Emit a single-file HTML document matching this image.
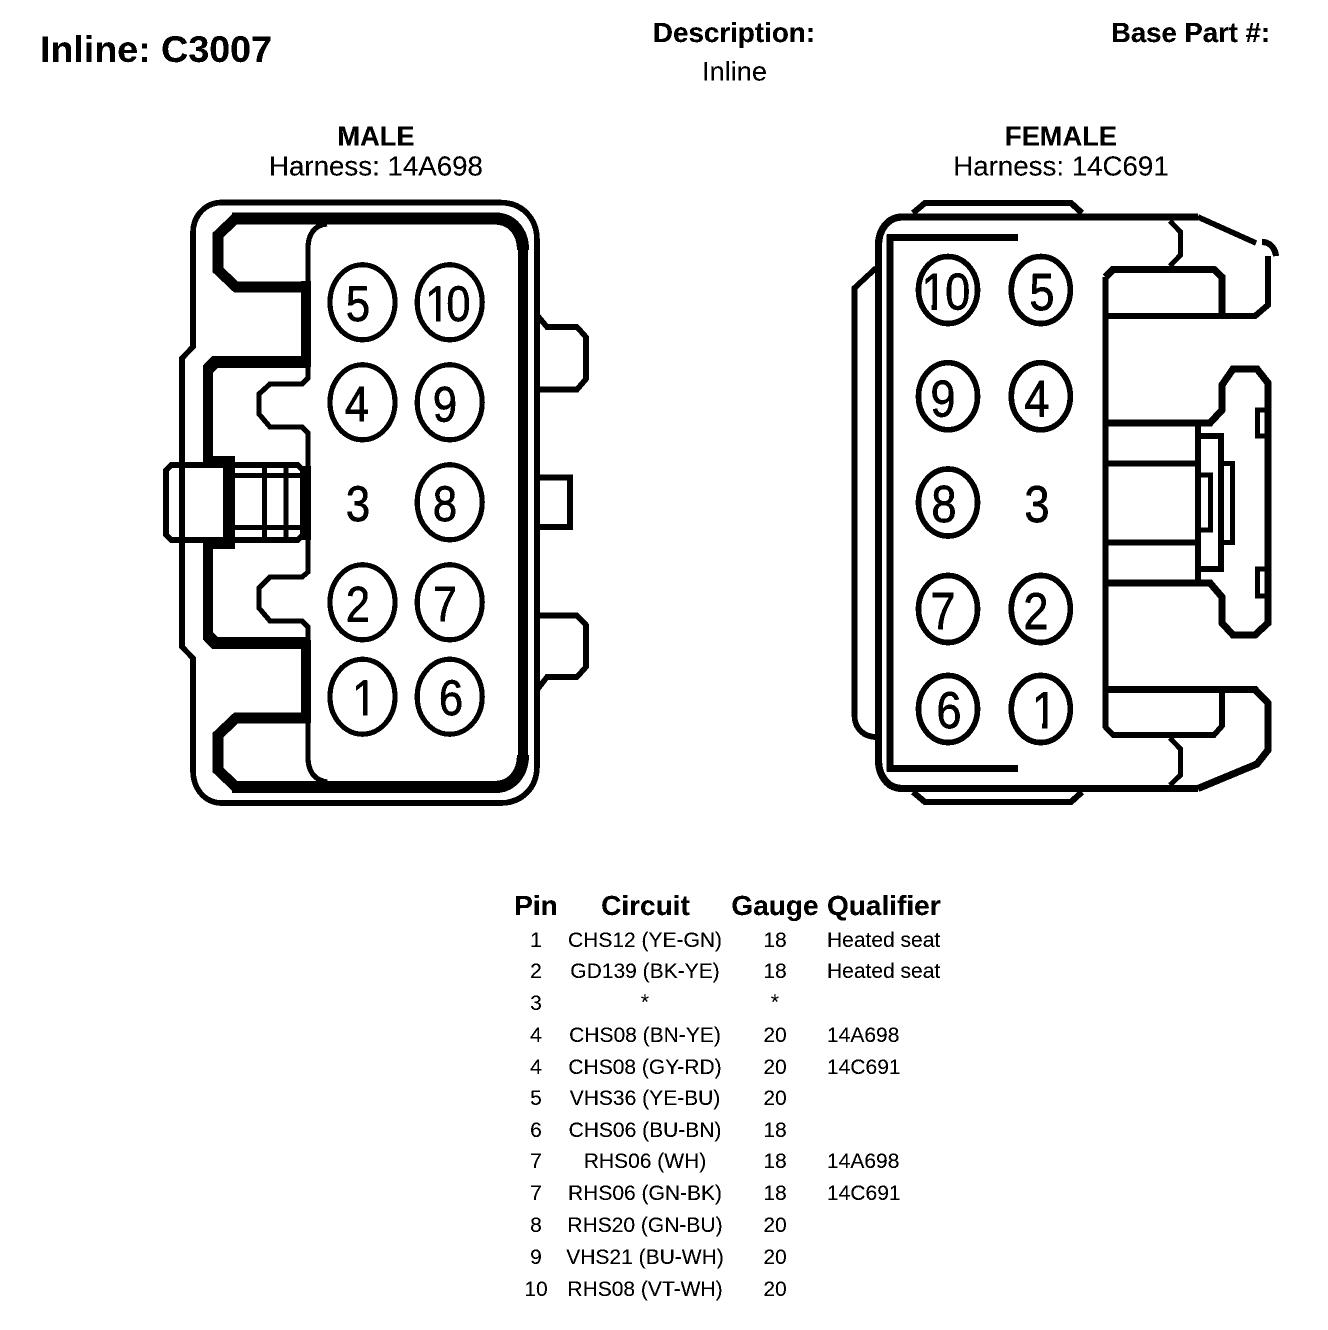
<!DOCTYPE html>
<html><head><meta charset="utf-8"><style>
html,body{margin:0;padding:0;background:#fff;width:1328px;height:1330px;overflow:hidden}
svg{display:block}
text{font-family:"Liberation Sans",sans-serif;fill:#000}
.b{font-weight:bold}
.m{text-anchor:middle}
.d{font-size:50px;text-anchor:middle;stroke:#000;stroke-width:.6}
.f{font-size:52px;text-anchor:middle;stroke:#000;stroke-width:.6}
.r{font-size:21px}
.h{font-size:28px;font-weight:bold}
path,ellipse{fill:none;stroke:#000;stroke-linejoin:miter}
</style></head><body>
<svg xmlns="http://www.w3.org/2000/svg" width="1328" height="1330" viewBox="0 0 1328 1330">
<defs><filter id="t" x="0" y="0" width="100%" height="100%" color-interpolation-filters="sRGB"><feComponentTransfer><feFuncR type="discrete" tableValues="0 0 1"/><feFuncG type="discrete" tableValues="0 0 1"/><feFuncB type="discrete" tableValues="0 0 1"/></feComponentTransfer></filter></defs>
<g filter="url(#t)">
<rect width="1328" height="1330" fill="#fff"/>

<text x="40" y="62" class="b" font-size="37" textLength="232" lengthAdjust="spacingAndGlyphs">Inline: C3007</text>
<text x="734" y="42" class="b m" font-size="27.8">Description:</text>
<text x="734.5" y="80.5" class="m" font-size="27.2">Inline</text>
<text x="1111" y="42" class="b" font-size="27.5" textLength="159" lengthAdjust="spacingAndGlyphs">Base Part #:</text>
<text x="376" y="145.5" class="b m" font-size="27.3">MALE</text>
<text x="376" y="175.5" class="m" font-size="27.7">Harness: 14A698</text>
<text x="1061" y="145.5" class="b m" font-size="27.3">FEMALE</text>
<text x="1061" y="175.5" class="m" font-size="27.7">Harness: 14C691</text>

<!-- MALE -->
<g>
<path stroke-width="5.5" d="M222 202.5H500C522 202.5 537 218 537 240V766C537 788 522 803 500 803H222C204 803 193 788 193 770V658L182 647V358L193 347V233C193 216 205 202.5 222 202.5Z"/>
<path stroke-width="12" d="M232 218.5H495C512 218.5 523 232 523 250"/>
<path stroke-width="12" d="M232 787H495C512 787 523 773 523 755"/>
<path stroke-width="10" d="M523 247V758"/>
<path stroke="#fff" stroke-width="1.5" d="M502 216C515 217 524 230 525 244"/>
<path stroke="#fff" stroke-width="1.5" d="M498 786C512 785 522 773 523 760"/>
<path stroke-width="10.5" d="M236 218L218 235V270L236 287H306"/>
<path stroke-width="10.5" d="M236 787L218 770V735L236 718H306"/>
<path stroke-width="10" d="M306 281V367"/>
<path stroke-width="10" d="M306 640V723"/>
<path stroke-width="12" d="M306 362H215L208 369"/>
<path stroke-width="12" d="M306 643H215L208 636"/>
<path stroke-width="10" d="M208 365V460M208 545V640"/>
<path stroke-width="5" d="M327 224C314 225 308 235 308 248V378L302 384H270L259 394V414L270 427H302L308 433V572L302 577H270L259 588V608L270 621H302L308 627V757C308 771 314 780 327 782"/>
<!-- latch -->
<path stroke-width="5.5" d="M171 465H298L303 470V535L298 540H171L166 535V470Z"/>
<path stroke-width="5" d="M182.5 358V647"/>
<path stroke-width="12" d="M229 456V549"/>
<path stroke-width="6" d="M203 459H235M203 546H235"/>
<path stroke-width="5" d="M264.5 465V540M286 465V540M235 475.5H305M235 527.5H305"/>
<path stroke-width="10" d="M306 466V540"/>
<!-- tabs -->
<path stroke-width="5.5" d="M537 315L547 327H577L586 337V379L577 389.5H537"/>
<path stroke-width="6" d="M537 477.5H570V527H537"/>
<path stroke-width="5.5" d="M537 615.5H577L586 625V667L577 677H547L537 690"/>

<text class="d" transform="translate(358 321) scale(.87 1)">5</text>
<text class="d" transform="translate(437.3 321) scale(.87 1)">1</text>
<rect x="426" y="316.5" width="10" height="6" fill="#fff"/><rect x="440.4" y="316.5" width="7.5" height="6" fill="#fff"/>
<text class="d" transform="translate(458.5 321) scale(.87 1)">0</text>
<text class="d" transform="translate(357 421.5) scale(.87 1)">4</text>
<text class="d" transform="translate(445 421.5) scale(.87 1)">9</text>
<text class="d" transform="translate(358 521) scale(.87 1)">3</text>
<text class="d" transform="translate(445 521) scale(.87 1)">8</text>
<text class="d" transform="translate(358 621.5) scale(.87 1)">2</text>
<text class="d" transform="translate(445 621.5) scale(.87 1)">7</text>
<text class="d" transform="translate(364.3 715) scale(.87 1)">1</text>
<rect x="354" y="710.5" width="9" height="6" fill="#fff"/><rect x="367.4" y="710.5" width="9" height="6" fill="#fff"/>
<text class="d" transform="translate(451 715) scale(.87 1)">6</text>

<ellipse cx="362.5" cy="302.3" rx="32.5" ry="37.5" stroke-width="5"/>
<ellipse cx="449.7" cy="302.3" rx="32.5" ry="37.5" stroke-width="5"/>
<ellipse cx="362.5" cy="402.3" rx="32.5" ry="37.5" stroke-width="5"/>
<ellipse cx="449.7" cy="402.3" rx="32.5" ry="37.5" stroke-width="5"/>
<ellipse cx="449.7" cy="502.3" rx="32.5" ry="37.5" stroke-width="5"/>
<ellipse cx="362.5" cy="602.3" rx="32.5" ry="37.5" stroke-width="5"/>
<ellipse cx="449.7" cy="602.3" rx="32.5" ry="37.5" stroke-width="5"/>
<ellipse cx="362.5" cy="696.7" rx="32.5" ry="37.5" stroke-width="5"/>
<ellipse cx="449.7" cy="696.7" rx="32.5" ry="37.5" stroke-width="5"/>
</g>

<!-- FEMALE -->
<g>
<path stroke-width="7" d="M1198 217H902C888 217 878.5 230 878.5 245V760C878.5 776 888 788.5 902 788.5H1198"/>
<path stroke-width="5.5" d="M1198 217L1256 243"/>
<path stroke-width="6" d="M1262 242C1270 242 1275 248 1276 256"/>
<path stroke-width="6" d="M1268 256V305L1255 316H1105.5"/>
<path stroke-width="7" d="M1198 788.5L1257 764L1268 750V703L1255 689.5H1105.5"/>
<path stroke-width="6" d="M913 213L925 203H1071L1082 213"/>
<path stroke-width="6" d="M913 792L925 802H1071L1082 792"/>
<path stroke-width="6.5" d="M1018 237.5H890V768.5H1018"/>
<path stroke-width="5.5" d="M876 268L854.5 288V715C854.5 728 863 737 877 737"/>
<path stroke-width="5.5" d="M1105.5 277V727L1113 735H1214L1222 726V689"/>
<path stroke-width="7" d="M1105.5 277L1113 269.5H1214L1222 277V316"/>
<path stroke-width="5" d="M1170 221L1180.5 232V255L1170 266"/>
<path stroke-width="5" d="M1170 738L1180.5 749V775L1170 785"/>
<path stroke-width="7" d="M1105.5 423H1210L1222 410V385L1233 369H1257L1268 383V623L1255 635H1233L1222 623V597L1210 583H1105.5"/>
<path stroke-width="6" d="M1105.5 463.5H1198M1105.5 542.5H1198"/>
<path stroke-width="6" d="M1198 423V583"/>
<path stroke-width="6" d="M1198 436H1221V569H1198"/>
<path stroke-width="5" d="M1198 475H1210.5V530H1198"/>
<path stroke-width="5" d="M1221 463.5H1232.5V542.5H1221"/>
<path stroke-width="5" d="M1268 410H1257.5V436H1268"/>
<path stroke-width="5" d="M1268 569H1257.5V596H1268"/>

<text class="f" transform="translate(933.8 309.5) scale(.87 1)">1</text>
<rect x="922" y="305" width="9.6" height="6" fill="#fff"/><rect x="937" y="305" width="8.5" height="6" fill="#fff"/>
<text class="f" transform="translate(957.7 309.5) scale(.87 1)">0</text>
<text class="f" transform="translate(1042 310) scale(.87 1)">5</text>
<text class="f" transform="translate(943 416.5) scale(.87 1)">9</text>
<text class="f" transform="translate(1037 416.5) scale(.87 1)">4</text>
<text class="f" transform="translate(944 522) scale(.87 1)">8</text>
<text class="f" transform="translate(1037 522) scale(.87 1)">3</text>
<text class="f" transform="translate(943 629) scale(.87 1)">7</text>
<text class="f" transform="translate(1036 629) scale(.87 1)">2</text>
<text class="f" transform="translate(949 728) scale(.87 1)">6</text>
<text class="f" transform="translate(1044.3 728) scale(.87 1)">1</text>
<rect x="1033" y="723.5" width="9.1" height="6" fill="#fff"/><rect x="1047.5" y="723.5" width="9.5" height="6" fill="#fff"/>

<ellipse cx="948" cy="290" rx="29.5" ry="33.5" stroke-width="5.5"/>
<ellipse cx="1040.8" cy="290" rx="29.5" ry="33.5" stroke-width="5.5"/>
<ellipse cx="948" cy="396.3" rx="29.5" ry="33.5" stroke-width="5.5"/>
<ellipse cx="1040.8" cy="396.3" rx="29.5" ry="33.5" stroke-width="5.5"/>
<ellipse cx="948" cy="502.5" rx="29.5" ry="33.5" stroke-width="5.5"/>
<ellipse cx="948" cy="609" rx="29.5" ry="33.5" stroke-width="5.5"/>
<ellipse cx="1040.8" cy="609" rx="29.5" ry="33.5" stroke-width="5.5"/>
<ellipse cx="948" cy="709" rx="29.5" ry="33.5" stroke-width="5.5"/>
<ellipse cx="1040.8" cy="709" rx="29.5" ry="33.5" stroke-width="5.5"/>
</g>

<!-- TABLE -->
<text x="536" y="915" class="h m">Pin</text>
<text x="645.5" y="915" class="h m">Circuit</text>
<text x="775" y="915" class="h m">Gauge</text>
<text x="827" y="915" class="h">Qualifier</text>

<g class="r">
<text class="r m" x="536" y="947">1</text><text class="r m" x="645" y="947">CHS12 (YE-GN)</text><text class="r m" x="775" y="947">18</text><text class="r" x="827" y="947">Heated seat</text>
<text class="r m" x="536" y="978">2</text><text class="r m" x="645" y="978">GD139 (BK-YE)</text><text class="r m" x="775" y="978">18</text><text class="r" x="827" y="978">Heated seat</text>
<text class="r m" x="536" y="1010">3</text><text class="r m" x="645" y="1009">*</text><text class="r m" x="775" y="1009">*</text>
<text class="r m" x="536" y="1042">4</text><text class="r m" x="645" y="1042">CHS08 (BN-YE)</text><text class="r m" x="775" y="1042">20</text><text class="r" x="827" y="1042">14A698</text>
<text class="r m" x="536" y="1074">4</text><text class="r m" x="645" y="1074">CHS08 (GY-RD)</text><text class="r m" x="775" y="1074">20</text><text class="r" x="827" y="1074">14C691</text>
<text class="r m" x="536" y="1105">5</text><text class="r m" x="645" y="1105">VHS36 (YE-BU)</text><text class="r m" x="775" y="1105">20</text>
<text class="r m" x="536" y="1137">6</text><text class="r m" x="645" y="1137">CHS06 (BU-BN)</text><text class="r m" x="775" y="1137">18</text>
<text class="r m" x="536" y="1168">7</text><text class="r m" x="645" y="1168">RHS06 (WH)</text><text class="r m" x="775" y="1168">18</text><text class="r" x="827" y="1168">14A698</text>
<text class="r m" x="536" y="1200">7</text><text class="r m" x="645" y="1200">RHS06 (GN-BK)</text><text class="r m" x="775" y="1200">18</text><text class="r" x="827" y="1200">14C691</text>
<text class="r m" x="536" y="1232">8</text><text class="r m" x="645" y="1232">RHS20 (GN-BU)</text><text class="r m" x="775" y="1232">20</text>
<text class="r m" x="536" y="1264">9</text><text class="r m" x="645" y="1264">VHS21 (BU-WH)</text><text class="r m" x="775" y="1264">20</text>
<text class="r m" x="536" y="1296">10</text><text class="r m" x="645" y="1296">RHS08 (VT-WH)</text><text class="r m" x="775" y="1296">20</text>
</g>
</g>
</svg>
</body></html>
